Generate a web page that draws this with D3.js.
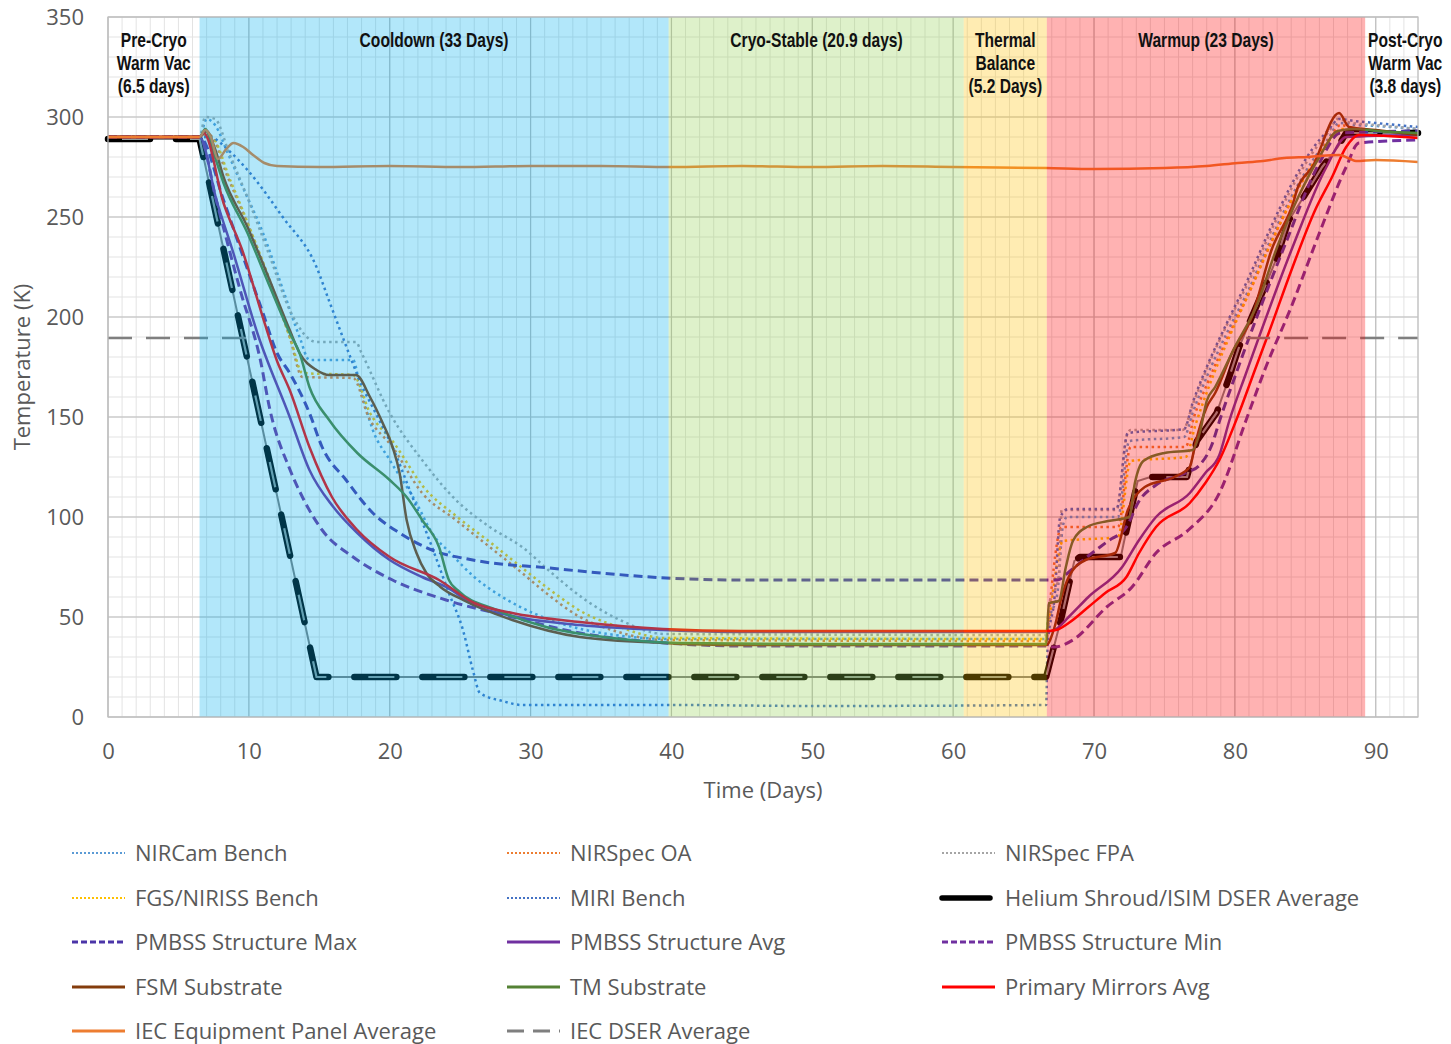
<!DOCTYPE html>
<html>
<head>
<meta charset="utf-8">
<script src="https://cdn.jsdelivr.net/npm/d3@7"></script>
<style>
  body { margin: 0; background: #fff; }
  .axis text { font-family: 'Open Sans', 'Noto Sans', sans-serif; font-size: 22px; fill: #595959; }
  .axis-title { font-family: 'Open Sans', 'Noto Sans', sans-serif; font-size: 22px; fill: #595959; }
  .phase { font-family: 'Liberation Sans', Arial, sans-serif; font-weight: bold; font-size: 19.5px; fill: #111; }
  .legend-text { font-family: 'Open Sans', 'Noto Sans', sans-serif; font-size: 22px; fill: #595959; }
</style>
</head>
<body>
<div id="chart"></div>
<script>
const W = 1451, H = 1044;
const plot = { left: 108, right: 1418, top: 17, bottom: 717 };

// axis ticks
const xTicks = [0, 10, 20, 30, 40, 50, 60, 70, 80, 90];
const yTicks = [0, 50, 100, 150, 200, 250, 300, 350];

// test phases (days)
const phaseStart = [0, 6.5, 39.8, 60.75, 66.65, 89.25];
const phaseEnd = [6.5, 39.8, 60.75, 66.65, 89.25, 93];
const phaseColor = [null, '#00B0F0', '#92D050', '#FFC000', '#FF0000', null];
const phaseLabelDay = [3.25, 23.15, 50.3, 63.7, 77.95, 92.1];
const phaseLabels = [
  ['Pre-Cryo', 'Warm Vac', '(6.5 days)'],
  ['Cooldown (33 Days)'],
  ['Cryo-Stable (20.9 days)'],
  ['Thermal', 'Balance', '(5.2 Days)'],
  ['Warmup (23 Days)'],
  ['Post-Cryo', 'Warm Vac', '(3.8 days)']
];

// series: [day, K]
const nircamBench = [[0,290],[6.5,290],[7.0,299],[7.6,296],[8.5,282],[9.5,266],[11,242],[12.5,212],[13.6,190],[14.3,178.5],[17.4,178.5],[17.9,165],[18.8,143.5],[20,128.5],[21.9,107],[23,92],[24.3,82],[26,70],[28,60],[30.5,51],[33,45],[36,41],[40,39],[66.6,39],[66.8,48],[67.4,62],[67.8,96],[68.1,100],[71.7,100],[72.5,138],[76.4,140],[77,152],[78,170],[79.5,193],[81,214],[82.5,238],[84,260],[85.5,278],[86.7,290],[87.4,297],[88.5,296],[90,295.5],[93,294]];
const nirspecOA = [[0,290],[6.5,290],[7.2,291],[8.5,270],[10,245],[11.5,218],[12.9,190],[13.8,170],[17.4,169.5],[18.5,150],[20.2,135],[22.3,112],[24.7,98.5],[27.1,85],[29.4,72],[31.1,62],[33.5,50],[36,43],[39.5,38.5],[66.6,38],[66.8,52],[67.7,95],[71.7,95],[72.6,135],[76.5,135],[77.1,150],[78,166],[79.5,190],[81,212],[82.5,236],[84,258],[85.5,276],[86.8,290],[87.5,296],[88.5,294],[93,292]];
const nirspecFPA = [[0,290],[6.5,290],[6.9,300],[7.6,299],[8.6,282],[10,258],[11.5,230],[13,202],[14.8,187.5],[17.6,187.5],[18,182],[20,152],[22.3,128.5],[24.7,108.5],[27.1,95],[29.4,85],[31.5,72],[34,58],[36.5,48],[39.5,41.5],[66.6,41],[66.8,56],[67.5,70],[67.7,103.5],[71.6,103.5],[72.3,140],[72.6,143.5],[76.3,143.5],[77,156],[78,174],[79.5,197],[81,218],[82.5,242],[84,264],[85.5,282],[86.7,293],[87.3,299],[88.3,297],[90,296],[93,294]];
const fgsNiriss = [[0,290],[6.5,290],[7.3,290],[8.7,268],[10.2,242],[11.7,214],[13,188],[13.8,172],[17.4,171],[18.6,152],[20.3,137],[22.4,115],[24.8,100],[27.2,87],[29.5,74],[31.3,64],[33.8,52],[36.3,45],[39.5,39.5],[66.6,39],[66.8,48],[67.8,88],[71.7,90],[72.6,128],[76.5,130],[77.2,146],[78.2,166],[79.6,190],[81,212],[82.5,236],[84,258],[85.5,276],[86.8,289],[87.6,294],[88.5,293],[93,291.5]];
const miriBench = [[0,290],[6.5,290],[7.2,290],[8.6,283],[9.9,273.5],[12.4,250],[14.8,225],[15.7,208],[16.5,193],[17.2,180],[18,166],[19,152],[20.2,135],[21.5,112],[23,85],[24.2,62],[25.2,43.5],[25.9,23.5],[26.4,12],[28,8],[29.4,6],[40,6],[50,5.5],[66.6,6],[66.7,35],[67.2,60],[67.6,100],[68.2,104],[71.6,104],[72.4,142],[76.4,144],[77,157],[78,175],[79.5,198],[81,220],[82.5,244],[84,266],[85.5,284],[86.7,294],[87.4,299],[88.5,298],[90,297],[93,295]];
const heliumShroud = [[0,289],[6.5,289],[14.8,20],[66.6,20],[67.7,50],[68.6,78],[69,80],[71.9,80],[72.2,90],[73.1,118],[74,120],[76.6,120],[77.3,138],[78.7,152],[79.6,170],[80.3,185],[81.2,200],[82.3,218],[83,230],[83.8,248],[84.7,258],[86.2,275],[87.3,285],[87.9,292],[93,292]];
const pmbssMax = [[0,290],[6.5,290],[8.2,258.5],[9.6,230],[11,202],[12,182],[12.9,172],[14.3,152],[15.2,135],[16.9,118.5],[18.8,102],[20.7,92],[23,83.5],[25.9,78.5],[31.3,74.5],[35,72],[39.6,69.5],[45,68.5],[66.6,68.5],[67.4,68.5],[68.3,73],[69.5,80],[71,88],[72.3,95],[73.2,108],[74.4,116],[76.5,122],[77.5,126],[78.3,135],[79,150],[80.3,176],[83.5,235],[86,277],[87.5,292],[93,293]];
const pmbssAvg = [[0,290],[6.5,290],[7.7,258.5],[8.9,232],[10.6,192],[12.9,150],[14.3,123.5],[16,105],[17.7,92],[20,78.5],[22.3,70],[24,65],[26,56],[28.7,50.5],[33.5,46],[39.4,43.5],[45,42.5],[66.6,42.5],[67.3,44],[68.2,50],[69.6,60],[72,75],[73.2,88.5],[74.4,100],[76.8,112],[77.9,122],[78.9,131],[79.6,148],[80.8,172],[84.1,235],[86.5,275],[87.9,290],[93,291]];
const pmbssMin = [[0,290],[6.5,290],[7.7,258],[9.4,213],[10.8,179],[11.5,153.5],[12.9,124],[13.8,110],[15.2,93.5],[17.4,80],[20.2,68.5],[24,58.5],[28.7,50],[33.5,42],[39.6,37],[45,35.5],[66.6,35.5],[67.2,35],[68.5,38.5],[70.9,55],[72.7,65],[74.4,82],[76.7,93.5],[78.9,112],[80.8,148.5],[82.2,175],[84,205],[86,242],[87.9,275],[88.8,287],[93,288.5]];
const fsmSubstrate = [[0,290],[6.5,290],[7,293],[7.6,284],[8.2,270],[9.9,245],[11.5,218],[12.9,193.5],[13.6,182],[14.8,173.5],[15.7,171],[17.6,171],[18.6,160],[19.5,147],[20.2,135],[20.7,122],[21.2,98.5],[21.9,82],[22.6,72],[23.6,65],[25.2,58.5],[28.7,48.5],[33.5,40],[39.4,37],[45,36],[66.6,36],[67.2,45],[67.7,60],[68.2,70],[69.4,78.5],[71.5,82],[72.4,103.5],[73.6,115],[75.7,120],[76.8,125],[77.2,137],[78,155],[78.6,162],[79.8,182],[81.2,200],[82.6,233.5],[84.2,258.5],[84.4,263.5],[85.5,275],[87.4,302],[88.1,295],[90,293.5],[93,291]];
const tmSubstrate = [[0,290],[6.5,290],[6.9,294],[7.5,282],[8.2,267],[9.9,242],[11.5,215],[12.9,192],[13.6,182],[14.3,165],[15.7,148.5],[17.7,132],[20,118.5],[21.2,110],[22.3,98.5],[23.5,85],[24.2,68.5],[24.8,63.5],[27.6,53.5],[31.1,45],[35.8,39.5],[40.6,37],[50,36.5],[66.6,36.5],[66.8,57],[67.5,58],[68,75],[68.5,88],[69.5,95],[71,98],[72.5,100],[72.9,117],[73.5,128],[75,132],[77,133.5],[77.5,142],[78,158],[78.6,165],[80,185],[81.5,205],[83,235],[84.5,260],[86,280],[87.3,293],[88.5,294],[90,293],[93,292]];
const primaryMirrors = [[0,290],[6.5,290],[6.8,292],[8.2,257],[9.6,232],[10.9,202],[12,178],[12.9,163.5],[14.3,135],[15.9,110],[17.7,93.5],[20,80],[23.5,68.5],[26,57],[28.7,52],[33.5,47.5],[39.4,44],[45,43],[66.6,43],[67.3,43.5],[68.2,47],[69.6,55],[70.8,62],[72.3,70],[73.2,82],[74.4,95],[76.8,107],[77.9,117],[78.9,128.5],[80.1,148.5],[81.5,175],[82.4,192],[84.1,225],[85.7,253.5],[86.9,270],[87.9,285],[88.8,291],[93,289.5]];
const iecPanel = [[0,290],[6.5,290],[6.9,293.5],[7.3,290],[7.8,279],[8.4,284],[8.9,287],[9.6,285],[10.3,281],[11.1,277],[12,275.5],[15,275],[20,275.5],[25,275],[30,275.5],[35,275.5],[40,275],[45,275.5],[50,275],[55,275.5],[60,275],[66.6,274.5],[70,274],[75,274.5],[78,275.5],[80.2,277],[82,278],[83.5,279.5],[85.2,280],[87.4,281],[88.2,279],[88.6,278],[90,278.5],[93,277.5]];
const iecDser = [[0,189.5],[10.1,189.5],[50,null],[80.8,189.5],[93,189.5]];

const seriesNames = ['NIRCam Bench', 'NIRSpec OA', 'NIRSpec FPA', 'FGS/NIRISS Bench', 'MIRI Bench',
  'Helium Shroud/ISIM DSER Average', 'PMBSS Structure Max', 'PMBSS Structure Avg', 'PMBSS Structure Min',
  'FSM Substrate', 'TM Substrate', 'Primary Mirrors Avg', 'IEC Equipment Panel Average', 'IEC DSER Average'];
const seriesValues = [nircamBench, nirspecOA, nirspecFPA, fgsNiriss, miriBench, heliumShroud,
  pmbssMax, pmbssAvg, pmbssMin, fsmSubstrate, tmSubstrate, primaryMirrors, iecPanel, iecDser];

// styles per series (same order)
const styles = [
  { color: '#5B9BD5', width: 2.5, dash: '2.5,3.5' },
  { color: '#ED7D31', width: 2.5, dash: '2.5,3.5' },
  { color: '#A5A5A5', width: 2.5, dash: '2.5,3.5' },
  { color: '#FFC000', width: 2.5, dash: '2.5,3.5' },
  { color: '#4472C4', width: 2.5, dash: '2.5,3.5' },
  { color: '#000000', width: 6, dash: null, helium: true },
  { color: '#4B35A8', width: 3, dash: '9,5' },
  { color: '#7030A0', width: 2.5, dash: null },
  { color: '#7030A0', width: 3, dash: '9,5' },
  { color: '#843C0C', width: 2.5, dash: null },
  { color: '#548235', width: 2.5, dash: null },
  { color: '#FF0000', width: 2.5, dash: null },
  { color: '#ED7D31', width: 2.5, dash: null },
  { color: '#7F7F7F', width: 2.5, dash: '24,14' }
];

const x = d3.scaleLinear().domain([0, 93]).range([plot.left, plot.right]);
const y = d3.scaleLinear().domain([0, 350]).range([plot.bottom, plot.top]);

const svg = d3.select('#chart').append('svg')
  .attr('width', W)
  .attr('height', H);

// grid
const grid = svg.append('g');
grid.selectAll('line.vmin').data(d3.range(0, 94, 1)).enter().append('line')
  .attr('x1', d => x(d)).attr('x2', d => x(d))
  .attr('y1', plot.top).attr('y2', plot.bottom)
  .attr('stroke', '#e3e3e3').attr('stroke-width', 1);
grid.selectAll('line.hmin').data(d3.range(0, 351, 10)).enter().append('line')
  .attr('x1', plot.left).attr('x2', plot.right)
  .attr('y1', d => y(d)).attr('y2', d => y(d))
  .attr('stroke', '#e3e3e3').attr('stroke-width', 1);
grid.selectAll('line.vmaj').data(xTicks).enter().append('line')
  .attr('x1', d => x(d)).attr('x2', d => x(d))
  .attr('y1', plot.top).attr('y2', plot.bottom)
  .attr('stroke', '#bdbdbd').attr('stroke-width', 1.2);
grid.selectAll('line.hmaj').data(yTicks).enter().append('line')
  .attr('x1', plot.left).attr('x2', plot.right)
  .attr('y1', d => y(d)).attr('y2', d => y(d))
  .attr('stroke', '#bdbdbd').attr('stroke-width', 1.2);

const line = d3.line()
  .defined(d => d[1] != null)
  .curve(d3.curveMonotoneX)
  .x(d => x(d[0]))
  .y(d => y(d[1]));
// shroud set-points change in straight ramps
const rampLine = d3.line()
  .x(d => x(d[0]))
  .y(d => y(d[1]));

const lines = svg.append('g');
seriesValues.forEach((vals, i) => {
  const s = styles[i];
  if (s.helium) {
    const d = rampLine(vals);
    lines.append('path').attr('d', d)
      .attr('fill', 'none').attr('stroke', '#7f7f7f').attr('stroke-width', 2);
    lines.append('path').attr('d', d)
      .attr('fill', 'none').attr('stroke', '#000').attr('stroke-width', 6.5)
      .attr('stroke-linecap', 'round').attr('stroke-linejoin', 'round')
      .attr('stroke-dasharray', '42,26');
    lines.append('path').attr('d', d)
      .attr('fill', 'none').attr('stroke', '#8f9a9a').attr('stroke-width', 2.2)
      .attr('stroke-dasharray', '0,14,26,28');
    return;
  }
  lines.append('path').attr('d', line(vals))
    .attr('fill', 'none')
    .attr('stroke', s.color)
    .attr('stroke-width', s.width)
    .attr('stroke-dasharray', s.dash)
    .attr('stroke-linejoin', 'round');
});

// translucent phase bands on top of the traces
const bandIdx = d3.range(phaseStart.length).filter(i => phaseColor[i] != null);
svg.append('g').selectAll('rect').data(bandIdx).enter().append('rect')
  .attr('x', i => x(phaseStart[i]))
  .attr('y', plot.top)
  .attr('width', i => x(phaseEnd[i]) - x(phaseStart[i]))
  .attr('height', plot.bottom - plot.top)
  .attr('fill', i => phaseColor[i])
  .attr('fill-opacity', 0.3);

svg.append('rect')
  .attr('x', plot.left).attr('y', plot.top)
  .attr('width', plot.right - plot.left).attr('height', plot.bottom - plot.top)
  .attr('fill', 'none').attr('stroke', '#bfbfbf').attr('stroke-width', 1.2);

// phase labels (narrow bold)
const phaseG = svg.append('g');
phaseLabels.forEach((rows, i) => {
  rows.forEach((t, j) => {
    phaseG.append('text')
      .attr('class', 'phase')
      .attr('transform', 'translate(' + x(phaseLabelDay[i]) + ',' + (47 + j * 23) + ') scale(0.8,1)')
      .attr('text-anchor', 'middle')
      .text(t);
  });
});

// axes
const yAxis = d3.axisLeft(y).tickValues(yTicks).tickSize(0).tickPadding(24);
const xAxis = d3.axisBottom(x).tickValues(xTicks).tickSize(0).tickPadding(26);
svg.append('g').attr('class', 'axis')
  .attr('transform', 'translate(' + plot.left + ',0)')
  .call(yAxis).call(g => g.select('.domain').remove());
svg.append('g').attr('class', 'axis')
  .attr('transform', 'translate(0,' + plot.bottom + ')')
  .call(xAxis).call(g => g.select('.domain').remove());

svg.append('text')
  .attr('class', 'axis-title')
  .attr('x', 763).attr('y', 798)
  .attr('text-anchor', 'middle')
  .text('Time (Days)');
svg.append('text')
  .attr('class', 'axis-title')
  .attr('transform', 'translate(30,367) rotate(-90)')
  .attr('text-anchor', 'middle')
  .text('Temperature (K)');

// legend
const legCols = [72, 507, 942];
const legRows = [853, 898, 942, 987, 1031];
const legend = svg.append('g');
seriesNames.forEach((name, i) => {
  const cx = legCols[i % 3], cy = legRows[Math.floor(i / 3)];
  const s = styles[i];
  const dotted = s.dash && s.dash.startsWith('2.5');
  legend.append('line')
    .attr('x1', cx).attr('x2', cx + (s.helium ? 48 : 53))
    .attr('y1', cy).attr('y2', cy)
    .attr('stroke', s.color)
    .attr('stroke-width', s.helium ? 5.5 : (dotted ? 2 : 2.8))
    .attr('stroke-linecap', s.helium ? 'round' : 'butt')
    .attr('stroke-dasharray', s.dash == null ? null : (dotted ? '2,2' : (s.dash === '9,5' ? '6,3' : '17,9')));
  legend.append('text')
    .attr('class', 'legend-text')
    .attr('x', cx + 63)
    .attr('y', cy + 8)
    .text(name);
});
</script>
</body>
</html>
